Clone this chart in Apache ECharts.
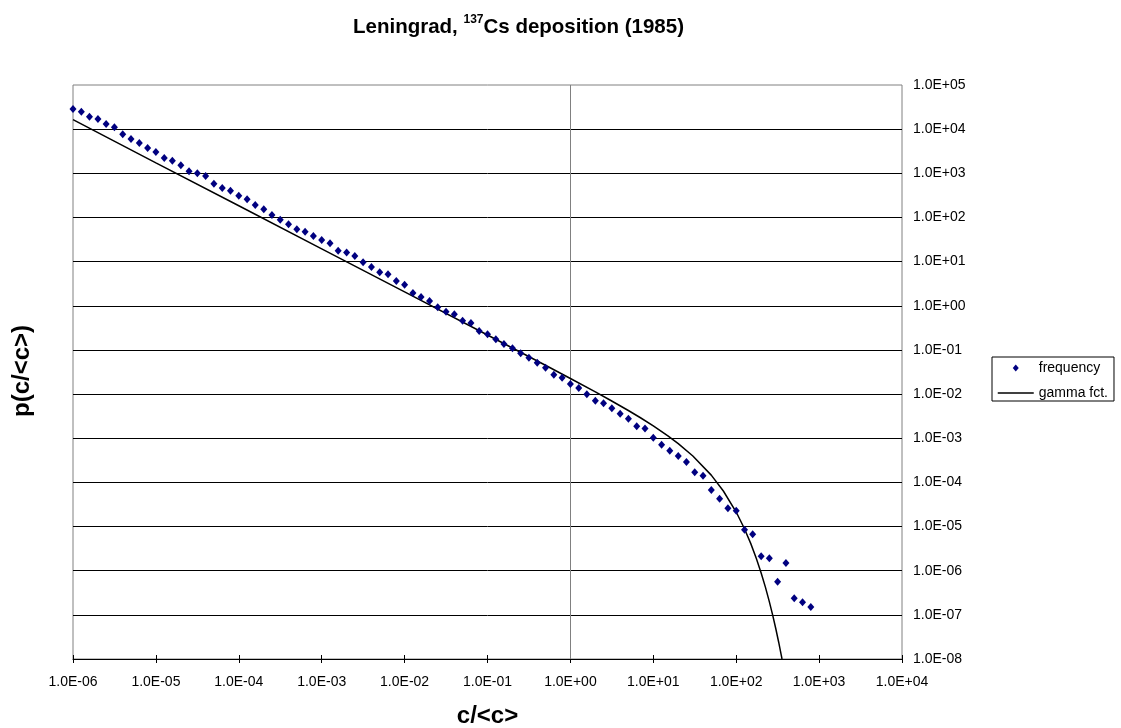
<!DOCTYPE html>
<html>
<head>
<meta charset="utf-8">
<title>Leningrad, 137Cs deposition (1985)</title>
<script src="https://cdn.jsdelivr.net/npm/echarts@6/dist/echarts.min.js"></script>
<style>
  html, body { margin: 0; padding: 0; background: #fff; }
  #chart { width: 1121px; height: 728px; }
</style>
</head>
<body>
<div id="chart"></div>
<script>
// measured frequency, c/<c> in steps of 0.1 decade
const freqX = [
  1.00e-6, 1.26e-6, 1.58e-6, 2.00e-6, 2.51e-6, 3.16e-6, 3.98e-6, 5.01e-6, 6.31e-6, 7.94e-6,
  1.00e-5, 1.26e-5, 1.58e-5, 2.00e-5, 2.51e-5, 3.16e-5, 3.98e-5, 5.01e-5, 6.31e-5, 7.94e-5,
  1.00e-4, 1.26e-4, 1.58e-4, 2.00e-4, 2.51e-4, 3.16e-4, 3.98e-4, 5.01e-4, 6.31e-4, 7.94e-4,
  1.00e-3, 1.26e-3, 1.58e-3, 2.00e-3, 2.51e-3, 3.16e-3, 3.98e-3, 5.01e-3, 6.31e-3, 7.94e-3,
  1.00e-2, 1.26e-2, 1.58e-2, 2.00e-2, 2.51e-2, 3.16e-2, 3.98e-2, 5.01e-2, 6.31e-2, 7.94e-2,
  0.100, 0.126, 0.158, 0.200, 0.251, 0.316, 0.398, 0.501, 0.631, 0.794,
  1.00, 1.26, 1.58, 2.00, 2.51, 3.16, 3.98, 5.01, 6.31, 7.94,
  10.0, 12.6, 15.8, 20.0, 25.1, 31.6, 39.8, 50.1, 63.1, 79.4,
  100, 126, 158, 200, 251, 316, 398, 501, 631, 794
];
const freqY = [
  2.86e4, 2.49e4, 1.92e4, 1.70e4, 1.31e4, 1.10e4, 7.64e3, 5.98e3, 4.86e3, 3.74e3,
  3.04e3, 2.22e3, 1.93e3, 1.52e3, 1.11e3, 1.00e3, 869, 582, 465, 405,
  312, 258, 191, 153, 114, 89.1, 69.8, 53.8, 47.6, 38.0,
  30.8, 25.9, 17.7, 16.0, 13.4, 9.64, 7.55, 5.73, 5.15, 3.64,
  3.00, 1.95, 1.58, 1.28, 0.923, 0.733, 0.640, 0.458, 0.406, 0.268,
  0.225, 0.174, 0.136, 0.109, 0.0838, 0.0665, 0.0513, 0.0395, 0.0274, 0.0234,
  0.0169, 0.0137, 9.86e-3, 7.06e-3, 6.17e-3, 4.75e-3, 3.59e-3, 2.77e-3, 1.86e-3, 1.67e-3,
  1.03e-3, 7.13e-4, 5.21e-4, 3.95e-4, 2.89e-4, 1.69e-4, 1.42e-4, 6.71e-5, 4.27e-5, 2.58e-5,
  2.28e-5, 8.47e-6, 6.65e-6, 2.11e-6, 1.91e-6, 5.62e-7, 1.49e-6, 2.37e-7, 1.92e-7, 1.50e-7
];

// fitted gamma function
const gammaX = [1e-6, 1e-5, 1e-4, 1e-3, 1e-2, 0.1, 0.5, 1, 2, 3, 5, 7, 10, 15, 20, 30, 50, 70,
  100, 125, 150, 175, 200, 225, 250, 275, 300, 325, 350, 357];
const gammaY = [1.64e4, 1.73e3, 184, 19.5, 2.06, 0.218, 0.0449, 0.0225, 0.0112, 7.35e-3, 4.25e-3,
  2.91e-3, 1.91e-3, 1.13e-3, 7.55e-4, 3.96e-4, 1.46e-4, 6.38e-5,
  2.13e-5, 9.16e-6, 4.1e-6, 1.89e-6, 8.9e-7, 4.25e-7, 2.05e-7, 1.0e-7, 4.9e-8, 2.43e-8, 1.21e-8, 1.0e-8];

const FONT = '"Liberation Sans", Arial, sans-serif';

function sci(v) {
  const e = Math.round(Math.log10(v));
  const a = Math.abs(e);
  return '1.0E' + (e < 0 ? '-' : '+') + (a < 10 ? '0' : '') + a;
}

const chart = echarts.init(document.getElementById('chart'));
const option = {
  animation: false,
  backgroundColor: '#fff',
  title: {
    text: '{a|Leningrad, }{s|137}{a|Cs deposition (1985)}',
    left: 348,
    top: 9,
    textStyle: {
      rich: {
        a: { fontFamily: FONT, fontSize: 20.5, fontWeight: 'bold', color: '#000', lineHeight: 26 },
        s: { fontFamily: FONT, fontSize: 12, fontWeight: 'bold', color: '#000', lineHeight: 10, verticalAlign: 'top' }
      }
    }
  },
  legend: {
    orient: 'vertical',
    left: 992,
    top: 357,
    padding: [4, 6, 1, 5],
    itemWidth: 36,
    itemHeight: 14,
    itemGap: 11,
    borderColor: '#000',
    borderWidth: 1,
    borderRadius: 0,
    backgroundColor: '#fff',
    textStyle: { fontFamily: FONT, fontSize: 14, color: '#000' },
    data: [
      { name: 'frequency', icon: 'path://M-7,-7 M7,7 M0,-3.5 L3,0 L0,3.5 L-3,0 Z' },
      { name: 'gamma fct.', itemStyle: { opacity: 0 }, lineStyle: { color: '#000', width: 1.5, opacity: 1 } }
    ]
  },
  grid: {
    left: 73,
    top: 85,
    width: 829,
    height: 574,
    outerBoundsMode: 'none',
    containLabel: false,
    show: true,
    borderColor: '#808080',
    borderWidth: 1,
    backgroundColor: 'transparent'
  },
  xAxis: [
    {
      type: 'log',
      logBase: 10,
      min: 1e-6,
      max: 1e4,
      interval: 1,
      position: 'bottom',
      name: 'c/<c>',
      nameLocation: 'middle',
      nameGap: 45,
      nameTextStyle: { fontFamily: FONT, fontSize: 24, fontWeight: 'bold', color: '#000' },
      axisLine: { show: true, lineStyle: { color: '#000', width: 1 } },
      axisTick: { show: true, inside: false, length: 4, lineStyle: { color: '#000' } },
      minorTick: { show: false },
      axisLabel: { fontFamily: FONT, fontSize: 14, color: '#000', margin: 16, formatter: sci },
      splitLine: { show: false }
    },
    {
      type: 'log',
      logBase: 10,
      min: 1e-6,
      max: 1e4,
      interval: 1,
      position: 'bottom',
      axisLine: { show: false },
      axisTick: { show: true, inside: true, length: 4, lineStyle: { color: '#000' } },
      axisLabel: { show: false },
      splitLine: { show: false }
    }
  ],
  yAxis: {
    type: 'log',
    logBase: 10,
    min: 1e-8,
    max: 1e5,
    interval: 1,
    position: 'right',
    axisLine: { show: false },
    axisTick: { show: false },
    axisLabel: { fontFamily: FONT, fontSize: 14, color: '#000', margin: 11, formatter: sci },
    splitLine: { show: true, showMaxLine: false, lineStyle: { color: '#000', width: 1 } }
  },
  graphic: [
    {
      type: 'text',
      x: 22,
      y: 371,
      rotation: Math.PI / 2,
      style: {
        text: 'p(c/<c>)',
        fontFamily: FONT,
        fontSize: 24,
        fontWeight: 'bold',
        fill: '#000',
        align: 'center',
        verticalAlign: 'middle'
      }
    }
  ],
  series: [
    {
      name: 'frequency',
      type: 'scatter',
      symbol: 'diamond',
      symbolSize: [7, 8],
      itemStyle: { color: '#000080', opacity: 1 },
      data: freqX.map((x, i) => [x, freqY[i]]),
      z: 3,
      markLine: {
        silent: true,
        symbol: 'none',
        label: { show: false },
        lineStyle: { color: '#808080', width: 1, type: 'solid' },
        data: [{ xAxis: 1 }],
        z: 1
      }
    },
    {
      name: 'gamma fct.',
      type: 'line',
      symbol: 'none',
      showSymbol: false,
      lineStyle: { color: '#000', width: 1.5 },
      itemStyle: { color: '#000' },
      data: gammaX.map((x, i) => [x, gammaY[i]]),
      z: 2
    }
  ]
};
chart.setOption(option);
window.addEventListener('resize', function () {
  chart.resize();
});
</script>
</body>
</html>
